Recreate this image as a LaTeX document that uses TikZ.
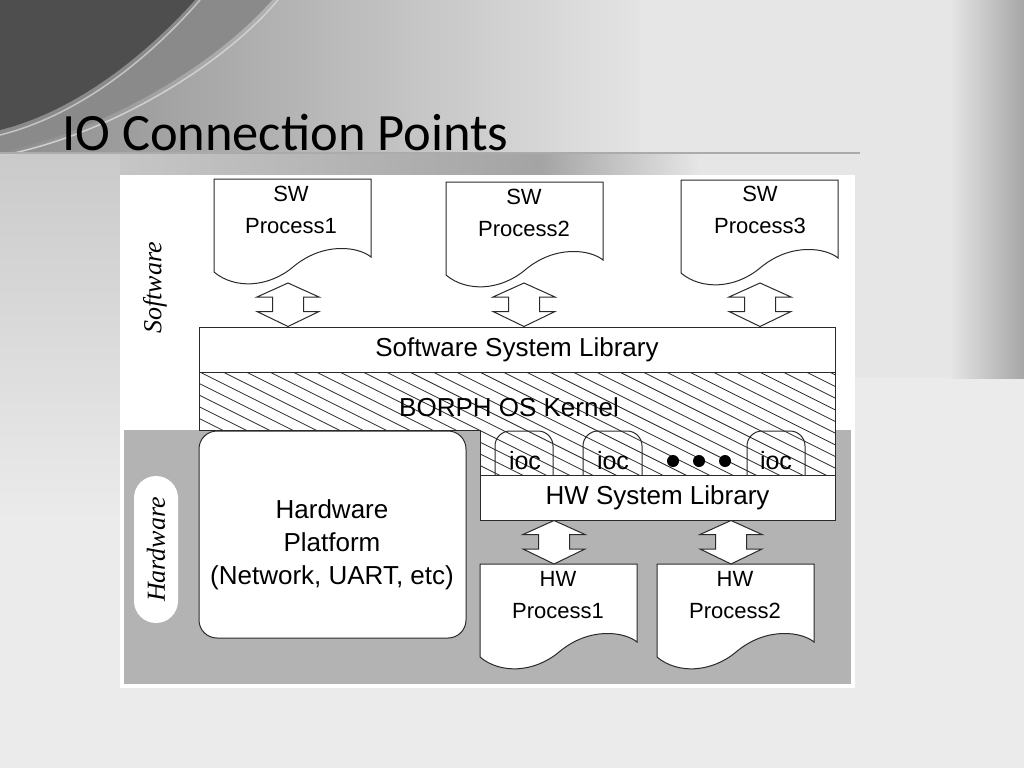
\documentclass[tikz,border=0pt]{standalone}
\usepackage{fontspec}
\setmainfont{Liberation Sans}
\newfontfamily\titlefont{Carlito}
\newfontfamily\labelfont{Liberation Serif}
\usetikzlibrary{calc}
\definecolor{bgc}{HTML}{EBEBEB}
\definecolor{lncol}{HTML}{2A2A2A}
\definecolor{hwgray}{HTML}{B3B3B3}
\definecolor{darkarc}{HTML}{4E4E4E}
\definecolor{midarc}{HTML}{8A8A8A}
\definecolor{lightline}{HTML}{C4C4C4}
\definecolor{bandmid}{HTML}{E6E6E6}
\definecolor{topleft}{HTML}{8C8C8C}
\definecolor{topmid}{HTML}{E4E4E4}
\definecolor{rightedge}{HTML}{A6A6A6}
\definecolor{rulecol}{HTML}{ABABAB}
\definecolor{striptop}{HTML}{CACACA}
\definecolor{stripmid}{HTML}{B4B4B4}
\definecolor{shadL}{HTML}{C6C6C6}
\definecolor{shadM}{HTML}{A4A4A4}
\newcommand\docpath[1]{%
  \draw[docshape, shift={#1}] (0,0) -- (157,0) -- (157,78)
    .. controls (145,68) and (110,62) .. (79,88)
    .. controls (54,109) and (20,110) .. (0,93) -- cycle;}
\newcommand\blockarrow[2]{%
  \draw[blk] let \p1=#1, \p2=#2 in
    (\p1) -- (\x1+31pt,\y1-14pt) -- (\x1+15.5pt,\y1-14pt) -- (\x1+15.5pt,\y2+15pt)
    -- (\x1+31pt,\y2+15pt) -- (\x1,\y2) -- (\x1-31pt,\y2+15pt) -- (\x1-15.5pt,\y2+15pt)
    -- (\x1-15.5pt,\y1-14pt) -- (\x1-31pt,\y1-14pt) -- cycle;}
\begin{document}
\begin{tikzpicture}[x=1pt,y=-1pt,
  ln/.style={draw=lncol, line width=1pt},
  docshape/.style={ln, fill=white},
  blk/.style={ln, fill=white},
  proc/.style={font=\fontsize{22}{32}\selectfont, align=center, text=black, inner sep=0pt},
  big/.style={font=\fontsize{26}{33}\selectfont, align=center, text=black},
  libbox/.style={ln, fill=white, inner sep=0pt, font=\fontsize{26}{33}\selectfont},
  ioctxt/.style={font=\fontsize{25}{30}\selectfont, inner sep=0pt, text=black},
  archstyle/.style={ln, rounded corners=15pt},
  hatchln/.style={draw=lncol, line width=0.8pt},
  sidelab/.style={rotate=90, font=\labelfont\itshape\fontsize{26}{30}\selectfont, text=black}
]
\useasboundingbox (0,0) rectangle (1024,768);
% ---------- slide background ----------
\fill[bgc] (0,0) rectangle (1024,768);
\fill[bandmid] (0,153) rectangle (1024,378);
\shade[top color=striptop, middle color=stripmid, bottom color=bgc] (0,153) rectangle (120,520);
\shade[left color=shadL, right color=shadM] (120,153) rectangle (540,175);
\shade[left color=shadM, right color=bandmid] (540,153) rectangle (700,175);
\shade[left color=topleft, right color=topmid] (0,0) rectangle (640,153);
\fill[bandmid] (640,0) rectangle (950,153);
\shade[left color=bandmid, right color=rightedge] (950,0) rectangle (1024,378);
\fill[midarc] (0,0) -- (272,0) .. controls (220,60) and (110,130) .. (0,152) -- cycle;
\fill[darkarc] (0,0) -- (195,0) .. controls (150,50) and (80,110) .. (0,130) -- cycle;
\draw[lightline, line width=1.5pt] (200,0) .. controls (155,52) and (84,114) .. (0,135);
\draw[lightline!80!white, line width=1.5pt] (278,0) .. controls (226,62) and (114,134) .. (0,156);
\draw[rulecol, line width=1.5pt] (0,153) -- (860,153);
\node[anchor=base west, inner sep=0pt, text=black] (title) at (62,150)
  {\titlefont\fontsize{52.5}{60}\selectfont IO Connection Points};
% ---------- diagram panel ----------
\fill[white] (120,175) rectangle (855,688);
\fill[hwgray] (124,430) rectangle (851,684);
% kernel hatched region
\fill[white] (199,372) -- (835,372) -- (835,475) -- (480,475) -- (480,430) -- (199,430) -- cycle;
\begin{scope}
  \clip (199,372) -- (835,372) -- (835,475) -- (480,475) -- (480,430) -- (199,430) -- cycle;
  \foreach \k in {-12,...,28} {
    \draw[hatchln] ({223+\k*23.33},372) -- ++(600,300);
  }
\end{scope}
\draw[ln] (199,372) -- (199,430) -- (480,430) -- (480,475);
\draw[ln] (835,372) -- (835,475);
\node[big, inner sep=0pt] (kernel) at (509,407) {BORPH OS Kernel};
% ioc arches
\draw[archstyle] (495,475) -- (495,431) -- (553,431) -- (553,475);
\draw[archstyle] (583,475) -- (583,431) -- (642,431) -- (642,475);
\draw[archstyle] (747,475) -- (747,431) -- (805,431) -- (805,475);
\node[ioctxt] (ioc1) at (525,461) {ioc};
\node[ioctxt] (ioc2) at (613,461) {ioc};
\node[ioctxt] (ioc3) at (776,461) {ioc};
\fill[black] (673,461) circle (6pt);
\fill[black] (699,461) circle (6pt);
\fill[black] (725,461) circle (6pt);
% libraries
\node[libbox, minimum width=636pt, minimum height=45pt] (ssl) at (517,349.5) {Software System Library};
\node[libbox, minimum width=355pt, minimum height=45pt] (hwl) at (657.5,497.5) {HW System Library};
% hardware platform
\node[ln, fill=white, rounded corners=18pt, minimum width=267pt, minimum height=207pt, inner sep=0pt]
  (hwp) at (332.5,534.5) {};
\node[big, inner sep=0pt] (hwptext) at (332,545) {Hardware\\Platform\\(Network, UART, etc)};
% side labels
\node[sidelab] (swlab) at (155,288) {Software};
\node[sidelab, fill=white, rounded corners=22pt, minimum width=147pt, minimum height=44pt, inner sep=0pt]
  (hwlab) at (156,549.5) {Hardware};
% SW processes
\docpath{(214,179)}
\docpath{(446,182)}
\docpath{(681,180)}
\node[proc] (sw1) at (291,210) {SW\\Process1};
\node[proc] (sw2) at (524,213) {SW\\Process2};
\node[proc] (sw3) at (760,210) {SW\\Process3};
% HW processes
\docpath{(480,564)}
\docpath{(657,564)}
\node[proc] (hw1) at (558,595) {HW\\Process1};
\node[proc] (hw2) at (735,595) {HW\\Process2};
% arrows
\coordinate (sw1o) at (288,283);
\coordinate (sw2o) at (524,283);
\coordinate (sw3o) at (760,283);
\coordinate (hw1i) at (554,564);
\coordinate (hw2i) at (731,564);
\blockarrow{(sw1o)}{(sw1o |- ssl.north)}
\blockarrow{(sw2o)}{(sw2o |- ssl.north)}
\blockarrow{(sw3o)}{(sw3o |- ssl.north)}
\blockarrow{(hw1i |- hwl.south)}{(hw1i)}
\blockarrow{(hw2i |- hwl.south)}{(hw2i)}
\end{tikzpicture}
\end{document}
